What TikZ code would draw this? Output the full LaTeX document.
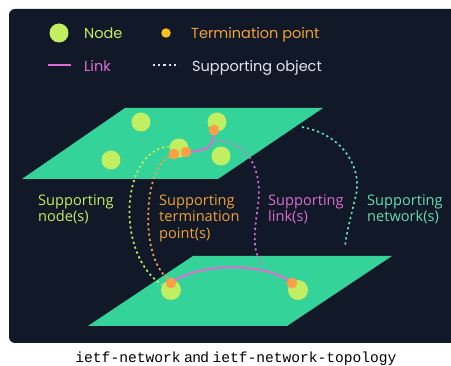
\documentclass[tikz,border=0pt]{standalone}
\usepackage{fontspec}
\setmainfont{Open Sans}
\newfontfamily\legendfont{Poppins}
\newfontfamily\capsans{Liberation Sans}
\setmonofont{Liberation Mono}
\definecolor{panelbg}{HTML}{111827}
\definecolor{planegreen}{HTML}{34D399}
\definecolor{nodegreen}{HTML}{C2EE62}
\definecolor{tporange}{HTML}{FBA046}
\definecolor{tpamber}{HTML}{FBBF24}
\definecolor{tptext}{HTML}{EFA235}
\definecolor{linkpink}{HTML}{DE6CD2}
\definecolor{netteal}{HTML}{63DDB3}
\definecolor{supwhite}{HTML}{E2E6EC}

\begin{document}
\begin{tikzpicture}[x=1pt,y=-1pt,
	netnode/.style={circle,fill=nodegreen,inner sep=0pt,minimum size=19pt},
	tpoint/.style={circle,fill=tporange,inner sep=0pt,minimum size=10.5pt},
	linkline/.style={draw=linkpink,line width=2pt},
	support/.style={line width=1.7pt,dash pattern=on 2.2pt off 3pt},
	lbl/.style={anchor=base west,align=left,inner sep=0pt,font=\fontsize{14.6}{16.6}\selectfont},
	legtext/.style={anchor=base west,inner sep=0pt,font=\legendfont\fontsize{14.5}{17}\selectfont}]
	%%%%% START %%%%%
	
	\useasboundingbox (0,0) rectangle (451,366);
	\clip (0,0) rectangle (451,366);
	\fill[panelbg, rounded corners=6pt] (9,9) rectangle (470,343);
	
	% legend
	\node[netnode] (legnode) at (59,33) {};
	\node[legtext, text=nodegreen] (legnodetxt) at (84,39) {Node};
	\node[circle, fill=tpamber, inner sep=0pt, minimum size=9.5pt] (legtp) at (166,33) {};
	\node[legtext, text=tptext] (legtptxt) at (191,39) {Termination point};
	\coordinate (leglinka) at (48,65);
	\coordinate (leglinkb) at (71,65);
	\draw[linkline] (leglinka) -- (leglinkb);
	\node[legtext, text=linkpink] (leglinktxt) at (84,71.5) {Link};
	\coordinate (legsupa) at (153,65);
	\coordinate (legsupb) at (179,65);
	\draw[support, line width=1.3pt, draw=supwhite] (legsupa) -- (legsupb);
	\node[legtext, text=supwhite] (legsuptxt) at (192,71.5) {Supporting object};
	
	% planes
	\fill[planegreen] (125,108) -- (323,108) -- (218,179) -- (22,179) -- cycle;
	\fill[planegreen] (193,256) -- (392,256) -- (287,326) -- (88,326) -- cycle;
	
	% upper network
	\node[netnode] (un1) at (141,122) {};
	\node[netnode] (un2) at (217,122) {};
	\node[netnode] (un3) at (179,148) {};
	\node[netnode] (un4) at (111,160) {};
	\node[netnode] (un5) at (221,156) {};
	
	% lower network
	\node[netnode, minimum size=20pt] (ln1) at (171,290) {};
	\node[netnode, minimum size=20pt] (ln2) at (298,290) {};
	
	% supporting objects
	\draw[support, draw=nodegreen] (un3.170) .. controls (120,150) and (115,255) .. (ln1.150);
	\coordinate (lk1) at (218,141);
	\coordinate (lk2) at (262,264);
	\draw[support, draw=linkpink] (lk1) .. controls (246,141) and (263,167) .. (258,205) .. controls (254,235) and (252,250) .. (lk2);
	\coordinate (nw1) at (302,127);
	\coordinate (nw2) at (345,247);
	\draw[support, draw=netteal] (nw1) .. controls (345,135) and (362,170) .. (356,195) .. controls (350,220) and (346,235) .. (nw2);
	
	% links
	\node[tpoint] (ut1) at (174,154) {};
	\node[tpoint] (ut2) at (186,152) {};
	\node[tpoint] (ut3) at (214,130) {};
	\node[tpoint] (lt1) at (171,283) {};
	\node[tpoint] (lt2) at (292,283) {};
	\draw[support, draw=tporange] (ut1.210) .. controls (145,165) and (138,255) .. (lt1.125);
	\draw[linkline] (ut2.center) .. controls (209,151) and (214,146) .. (ut3.center);
	\draw[linkline] (lt1.center) .. controls (200,262) and (265,262) .. (lt2.center);
	\node[tpoint] at (ut1) {};
	\node[tpoint] at (ut2) {};
	\node[tpoint] at (ut3) {};
	\node[tpoint] at (lt1) {};
	\node[tpoint] at (lt2) {};
	
	% labels (base = last line)
	\node[lbl, text=nodegreen] (supnode) at (38,222) {Supporting\\node(s)};
	\node[lbl, text=tptext] (suptp) at (159,238.5) {Supporting\\termination\\point(s)};
	\node[lbl, text=linkpink] (suplink) at (268,222) {Supporting\\link(s)};
	\node[lbl, text=netteal] (supnet) at (367,222) {Supporting\\network(s)};
	
	% caption
	\node[anchor=base, inner sep=0pt, font=\fontsize{14.6}{16}\selectfont] (caption) at (236,363)
		{\texttt{ietf-network} {\capsans and} \texttt{ietf-network-topology}};
	
	%%%%% END %%%%%
\end{tikzpicture}
\end{document}
